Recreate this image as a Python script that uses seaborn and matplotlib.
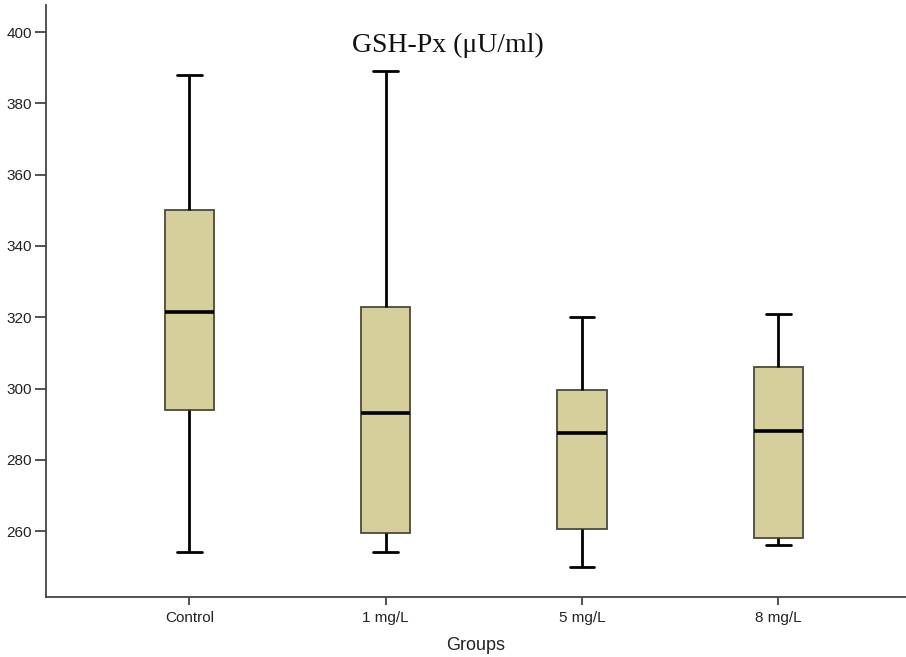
import pandas as pd
import seaborn as sns
import matplotlib.pyplot as plt

# Box summaries: min, Q1, median, Q3, max per group
groups = ['Control', '1 mg/L', '5 mg/L', '8 mg/L']
control = [254.0, 294.0, 321.5, 350.0, 388.0]
mg1 = [254.0, 259.5, 293.0, 323.0, 389.0]
mg5 = [250.0, 260.5, 287.5, 299.5, 320.0]
mg8 = [256.0, 258.0, 288.0, 306.0, 321.0]

df = pd.DataFrame({
    'group': [g for g, vals in zip(groups, [control, mg1, mg5, mg8]) for _ in vals],
    'value': control + mg1 + mg5 + mg8,
})

sns.set_style('white')
plt.rcParams['font.family'] = ['Liberation Sans', 'DejaVu Sans']

fig = plt.figure(figsize=(9.06, 6.57), dpi=100)
ax = fig.add_axes([0.0508, 0.0913, 0.9492, 0.9011])

axis_col = '#444444'
sns.boxplot(data=df, x='group', y='value', order=groups, ax=ax,
            whis=(0, 100), width=0.25, color='#d5d09b', saturation=1,
            linecolor='#3a3a30', linewidth=1.2,
            boxprops={'edgecolor': '#4a4a3c', 'linewidth': 1.3},
            whiskerprops={'color': 'black', 'linewidth': 2.0},
            capprops={'color': 'black', 'linewidth': 2.0},
            medianprops={'color': 'black', 'linewidth': 2.6})

ax.set_xlim(-0.73, 3.65)
ax.set_ylim(241.5, 407.6)
ax.set_yticks(range(260, 401, 20))

for side in ['top', 'right']:
    ax.spines[side].set_visible(False)
for side in ['left', 'bottom']:
    ax.spines[side].set_color(axis_col)
    ax.spines[side].set_linewidth(1.3)

ax.tick_params(axis='y', which='major', direction='out', length=8, width=1.3, pad=2,
               color=axis_col, labelcolor='#222222', labelsize=11, left=True)
ax.tick_params(axis='x', which='major', direction='out', length=6, width=1.3, pad=4,
               color=axis_col, labelcolor='#222222', labelsize=11, bottom=True)
ax.set_xlabel('Groups', fontsize=13, color='#222222', labelpad=9)
ax.set_ylabel('')

ax.text(0.467, 0.932, 'GSH-Px (\u03bcU/ml)', transform=ax.transAxes, ha='center', va='center',
        fontsize=20, family=['Liberation Serif', 'DejaVu Serif'], color='#111111')

fig.savefig('out.png', dpi=100)
